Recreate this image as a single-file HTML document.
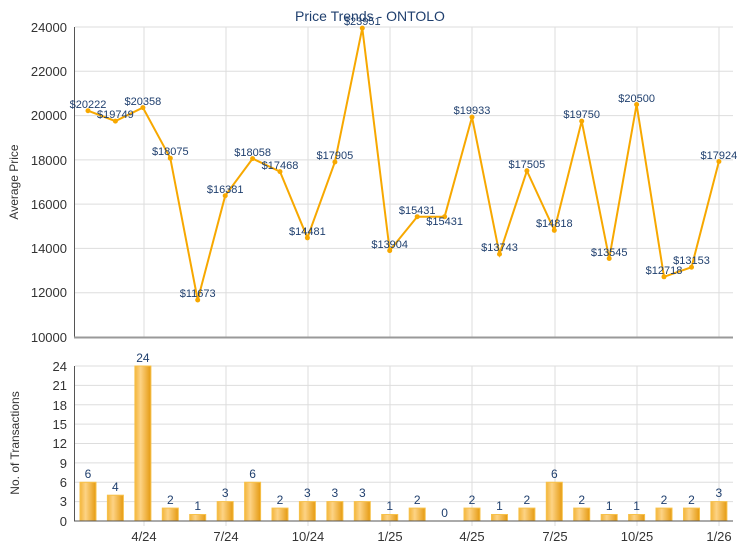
<!DOCTYPE html>
<html><head><meta charset="utf-8"><style>
body{margin:0;background:#fff;}
svg{display:block;font-family:"Liberation Sans",Arial,sans-serif;}
</style></head><body>
<svg width="740" height="550" viewBox="0 0 740 550" xmlns="http://www.w3.org/2000/svg">
<defs>
<linearGradient id="bg" x1="0" x2="1" y1="0" y2="0">
<stop offset="0" stop-color="#f3b53a"/><stop offset="0.35" stop-color="#fdd385"/><stop offset="1" stop-color="#e59a10"/>
</linearGradient>
</defs>
<text x="370" y="21" font-size="14" fill="#1f3f6e" text-anchor="middle">Price Trends - ONTOLO</text>
<!-- top grid -->
<g stroke="#dddddd" stroke-width="1">
<line x1="75" x2="733" y1="27" y2="27"/><line x1="75" x2="733" y1="71.3" y2="71.3"/><line x1="75" x2="733" y1="115.6" y2="115.6"/><line x1="75" x2="733" y1="159.9" y2="159.9"/><line x1="75" x2="733" y1="204.1" y2="204.1"/><line x1="75" x2="733" y1="248.4" y2="248.4"/><line x1="75" x2="733" y1="292.7" y2="292.7"/>
<line x1="144" x2="144" y1="27" y2="337"/><line x1="226" x2="226" y1="27" y2="337"/><line x1="308" x2="308" y1="27" y2="337"/><line x1="390" x2="390" y1="27" y2="337"/><line x1="472" x2="472" y1="27" y2="337"/><line x1="555" x2="555" y1="27" y2="337"/><line x1="637" x2="637" y1="27" y2="337"/><line x1="719" x2="719" y1="27" y2="337"/>
</g>
<line x1="74.5" x2="74.5" y1="27" y2="337" stroke="#555"/>
<line x1="74" x2="733" y1="337.5" y2="337.5" stroke="#999" stroke-width="2"/>
<g font-size="13" fill="#333" text-anchor="end">
<text x="67" y="32">24000</text><text x="67" y="76">22000</text><text x="67" y="120">20000</text><text x="67" y="165">18000</text><text x="67" y="209">16000</text><text x="67" y="253">14000</text><text x="67" y="297">12000</text><text x="67" y="342">10000</text>
</g>
<text transform="translate(18,182) rotate(-90)" font-size="12" fill="#333" text-anchor="middle">Average Price</text>
<polyline fill="none" stroke="#f7a800" stroke-width="2" points="88,110.7 115.4,121.1 142.9,107.6 170.3,158.2 197.7,300 225.2,195.7 252.6,158.6 280,171.6 307.4,237.8 334.9,162 362.3,28.1 389.7,250.6 417.2,216.7 444.6,216.7 472,117.1 499.5,254.1 526.9,170.8 554.3,230.3 581.7,121.1 609.2,258.5 636.6,104.5 664,276.8 691.5,267.2 718.9,161.5"/>
<g fill="#f7a800">
<circle cx="88" cy="110.7" r="2.5"/><circle cx="115.4" cy="121.1" r="2.5"/><circle cx="142.9" cy="107.6" r="2.5"/><circle cx="170.3" cy="158.2" r="2.5"/><circle cx="197.7" cy="300" r="2.5"/><circle cx="225.2" cy="195.7" r="2.5"/><circle cx="252.6" cy="158.6" r="2.5"/><circle cx="280" cy="171.6" r="2.5"/><circle cx="307.4" cy="237.8" r="2.5"/><circle cx="334.9" cy="162" r="2.5"/><circle cx="362.3" cy="28.1" r="2.5"/><circle cx="389.7" cy="250.6" r="2.5"/><circle cx="417.2" cy="216.7" r="2.5"/><circle cx="444.6" cy="216.7" r="2.5"/><circle cx="472" cy="117.1" r="2.5"/><circle cx="499.5" cy="254.1" r="2.5"/><circle cx="526.9" cy="170.8" r="2.5"/><circle cx="554.3" cy="230.3" r="2.5"/><circle cx="581.7" cy="121.1" r="2.5"/><circle cx="609.2" cy="258.5" r="2.5"/><circle cx="636.6" cy="104.5" r="2.5"/><circle cx="664" cy="276.8" r="2.5"/><circle cx="691.5" cy="267.2" r="2.5"/><circle cx="718.9" cy="161.5" r="2.5"/>
</g>
<g font-size="11" fill="#1f3f6e" text-anchor="middle">
<text x="88" y="108">$20222</text><text x="115.4" y="118">$19749</text><text x="142.9" y="105">$20358</text><text x="170.3" y="155">$18075</text><text x="197.7" y="297">$11673</text><text x="225.2" y="193">$16381</text><text x="252.6" y="156">$18058</text><text x="280" y="169">$17468</text><text x="307.4" y="235">$14481</text><text x="334.9" y="159">$17905</text><text x="362.3" y="25">$23951</text><text x="389.7" y="248">$13904</text><text x="417.2" y="214">$15431</text><text x="444.6" y="225">$15431</text><text x="472" y="114">$19933</text><text x="499.5" y="251">$13743</text><text x="526.9" y="168">$17505</text><text x="554.3" y="227">$14818</text><text x="581.7" y="118">$19750</text><text x="609.2" y="256">$13545</text><text x="636.6" y="102">$20500</text><text x="664" y="274">$12718</text><text x="691.5" y="264">$13153</text><text x="718.9" y="159">$17924</text>
</g>
<!-- bottom grid -->
<g stroke="#dddddd" stroke-width="1">
<line x1="75" x2="733" y1="366" y2="366"/><line x1="75" x2="733" y1="385.4" y2="385.4"/><line x1="75" x2="733" y1="404.75" y2="404.75"/><line x1="75" x2="733" y1="424.1" y2="424.1"/><line x1="75" x2="733" y1="443.5" y2="443.5"/><line x1="75" x2="733" y1="462.9" y2="462.9"/><line x1="75" x2="733" y1="482.25" y2="482.25"/><line x1="75" x2="733" y1="501.6" y2="501.6"/>
<line x1="144" x2="144" y1="366" y2="526"/><line x1="226" x2="226" y1="366" y2="526"/><line x1="308" x2="308" y1="366" y2="526"/><line x1="390" x2="390" y1="366" y2="526"/><line x1="472" x2="472" y1="366" y2="526"/><line x1="555" x2="555" y1="366" y2="526"/><line x1="637" x2="637" y1="366" y2="526"/><line x1="719" x2="719" y1="366" y2="526"/>
</g>
<g fill="url(#bg)" stroke="#f7c14a" stroke-width="1">
<rect x="80" y="482.25" width="16" height="38.75"/><rect x="107.4" y="495.2" width="16" height="25.8"/><rect x="134.9" y="366" width="16" height="155"/><rect x="162.3" y="508.1" width="16" height="12.9"/><rect x="189.7" y="514.5" width="16" height="6.5"/><rect x="217.2" y="501.6" width="16" height="19.4"/><rect x="244.6" y="482.25" width="16" height="38.75"/><rect x="272" y="508.1" width="16" height="12.9"/><rect x="299.4" y="501.6" width="16" height="19.4"/><rect x="326.9" y="501.6" width="16" height="19.4"/><rect x="354.3" y="501.6" width="16" height="19.4"/><rect x="381.7" y="514.5" width="16" height="6.5"/><rect x="409.2" y="508.1" width="16" height="12.9"/><rect x="464" y="508.1" width="16" height="12.9"/><rect x="491.5" y="514.5" width="16" height="6.5"/><rect x="518.9" y="508.1" width="16" height="12.9"/><rect x="546.3" y="482.25" width="16" height="38.75"/><rect x="573.7" y="508.1" width="16" height="12.9"/><rect x="601.2" y="514.5" width="16" height="6.5"/><rect x="628.6" y="514.5" width="16" height="6.5"/><rect x="656" y="508.1" width="16" height="12.9"/><rect x="683.5" y="508.1" width="16" height="12.9"/><rect x="710.9" y="501.6" width="16" height="19.4"/>
</g>
<line x1="74.5" x2="74.5" y1="366" y2="521" stroke="#555"/>
<line x1="74" x2="733" y1="521" y2="521" stroke="#555"/>
<g font-size="12" fill="#1f3f6e" text-anchor="middle">
<text x="88" y="478">6</text><text x="115.4" y="491">4</text><text x="142.9" y="362">24</text><text x="170.3" y="504">2</text><text x="197.7" y="510">1</text><text x="225.2" y="497">3</text><text x="252.6" y="478">6</text><text x="280" y="504">2</text><text x="307.4" y="497">3</text><text x="334.9" y="497">3</text><text x="362.3" y="497">3</text><text x="389.7" y="510">1</text><text x="417.2" y="504">2</text><text x="444.6" y="517">0</text><text x="472" y="504">2</text><text x="499.5" y="510">1</text><text x="526.9" y="504">2</text><text x="554.3" y="478">6</text><text x="581.7" y="504">2</text><text x="609.2" y="510">1</text><text x="636.6" y="510">1</text><text x="664" y="504">2</text><text x="691.5" y="504">2</text><text x="718.9" y="497">3</text>
</g>
<g font-size="13" fill="#333" text-anchor="end">
<text x="67" y="371">24</text><text x="67" y="390">21</text><text x="67" y="410">18</text><text x="67" y="429">15</text><text x="67" y="448">12</text><text x="67" y="468">9</text><text x="67" y="487">6</text><text x="67" y="506">3</text><text x="67" y="526">0</text>
</g>
<text transform="translate(19,443) rotate(-90)" font-size="12" fill="#333" text-anchor="middle">No. of Transactions</text>
<g font-size="13" fill="#333" text-anchor="middle">
<text x="144" y="541">4/24</text><text x="226" y="541">7/24</text><text x="308" y="541">10/24</text><text x="390" y="541">1/25</text><text x="472" y="541">4/25</text><text x="555" y="541">7/25</text><text x="637" y="541">10/25</text><text x="719" y="541">1/26</text>
</g>
</svg>
</body></html>
